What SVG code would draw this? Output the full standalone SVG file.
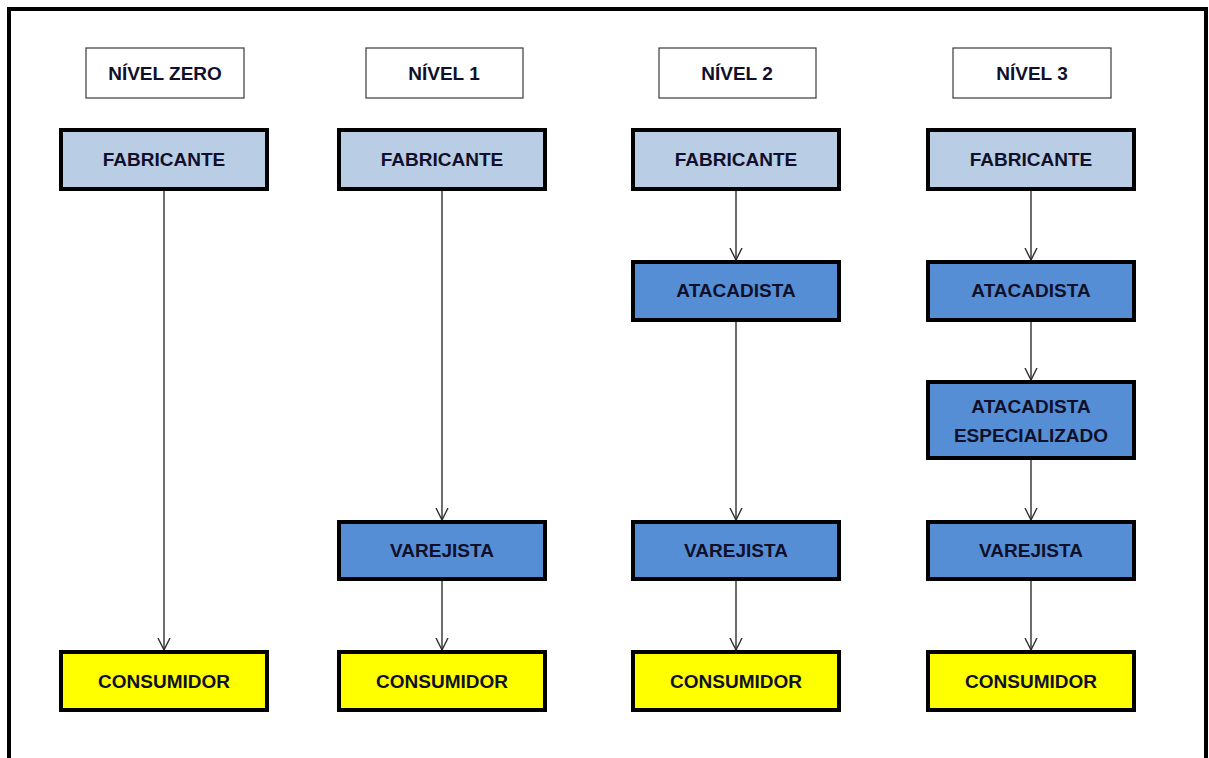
<svg xmlns="http://www.w3.org/2000/svg" width="1209" height="758" viewBox="0 0 1209 758">
<defs>
<style>
.hdr{fill:#fff;stroke:#3a3a3a;stroke-width:1.2}
.box{stroke:#000;stroke-width:4}
.fab{fill:#B9CDE5}
.blue{fill:#558ED5}
.yel{fill:#FFFF00}
text{font-family:"Liberation Sans",Arial,sans-serif;font-weight:bold;font-size:19px;fill:#10102a;text-anchor:middle}
.conn line{stroke:#2e2e2e;stroke-width:1.4;fill:none}
</style>
<marker id="ah" markerWidth="14" markerHeight="14" refX="12" refY="7" orient="auto" markerUnits="userSpaceOnUse">
<path d="M0,1 L12,7 L0,13" fill="none" stroke="#2e2e2e" stroke-width="1.4"/>
</marker>
</defs>
<rect width="1209" height="758" fill="#fff"/>
<path d="M9,762 V9 H1206 V762" fill="none" stroke="#000" stroke-width="4"/>
<g class="conn">
<line x1="164" y1="190" x2="164" y2="650" marker-end="url(#ah)"/>
<line x1="442" y1="190" x2="442" y2="520" marker-end="url(#ah)"/>
<line x1="442" y1="580" x2="442" y2="650" marker-end="url(#ah)"/>
<line x1="736" y1="190" x2="736" y2="260" marker-end="url(#ah)"/>
<line x1="736" y1="321" x2="736" y2="520" marker-end="url(#ah)"/>
<line x1="736" y1="580" x2="736" y2="650" marker-end="url(#ah)"/>
<line x1="1031" y1="190" x2="1031" y2="260" marker-end="url(#ah)"/>
<line x1="1031" y1="321" x2="1031" y2="380" marker-end="url(#ah)"/>
<line x1="1031" y1="459" x2="1031" y2="520" marker-end="url(#ah)"/>
<line x1="1031" y1="580" x2="1031" y2="650" marker-end="url(#ah)"/>
</g>
<g id="h0"><rect class="hdr" x="86" y="48" width="158" height="50"/><text x="165" y="80">NÍVEL ZERO</text></g>
<g id="h1"><rect class="hdr" x="366" y="48" width="157" height="50"/><text x="444" y="80">NÍVEL 1</text></g>
<g id="h2"><rect class="hdr" x="659" y="48" width="157" height="50"/><text x="737" y="80">NÍVEL 2</text></g>
<g id="h3"><rect class="hdr" x="953" y="48" width="158" height="50"/><text x="1032" y="80">NÍVEL 3</text></g>
<g id="fab0"><rect class="box fab" x="61" y="130" width="206" height="59"/><text x="164" y="166">FABRICANTE</text></g>
<g id="fab1"><rect class="box fab" x="339" y="130" width="206" height="59"/><text x="442" y="166">FABRICANTE</text></g>
<g id="fab2"><rect class="box fab" x="633" y="130" width="206" height="59"/><text x="736" y="166">FABRICANTE</text></g>
<g id="fab3"><rect class="box fab" x="928" y="130" width="206" height="59"/><text x="1031" y="166">FABRICANTE</text></g>
<g id="ata2"><rect class="box blue" x="633" y="262" width="206" height="58"/><text x="736" y="297">ATACADISTA</text></g>
<g id="ata3"><rect class="box blue" x="928" y="262" width="206" height="58"/><text x="1031" y="297">ATACADISTA</text></g>
<g id="ataesp3"><rect class="box blue" x="928" y="382" width="206" height="76"/><text x="1031" y="413">ATACADISTA</text><text x="1031" y="442">ESPECIALIZADO</text></g>
<g id="var1"><rect class="box blue" x="339" y="522" width="206" height="57"/><text x="442" y="557">VAREJISTA</text></g>
<g id="var2"><rect class="box blue" x="633" y="522" width="206" height="57"/><text x="736" y="557">VAREJISTA</text></g>
<g id="var3"><rect class="box blue" x="928" y="522" width="206" height="57"/><text x="1031" y="557">VAREJISTA</text></g>
<g id="con0"><rect class="box yel" x="61" y="652" width="206" height="58"/><text x="164" y="688">CONSUMIDOR</text></g>
<g id="con1"><rect class="box yel" x="339" y="652" width="206" height="58"/><text x="442" y="688">CONSUMIDOR</text></g>
<g id="con2"><rect class="box yel" x="633" y="652" width="206" height="58"/><text x="736" y="688">CONSUMIDOR</text></g>
<g id="con3"><rect class="box yel" x="928" y="652" width="206" height="58"/><text x="1031" y="688">CONSUMIDOR</text></g>
</svg>
